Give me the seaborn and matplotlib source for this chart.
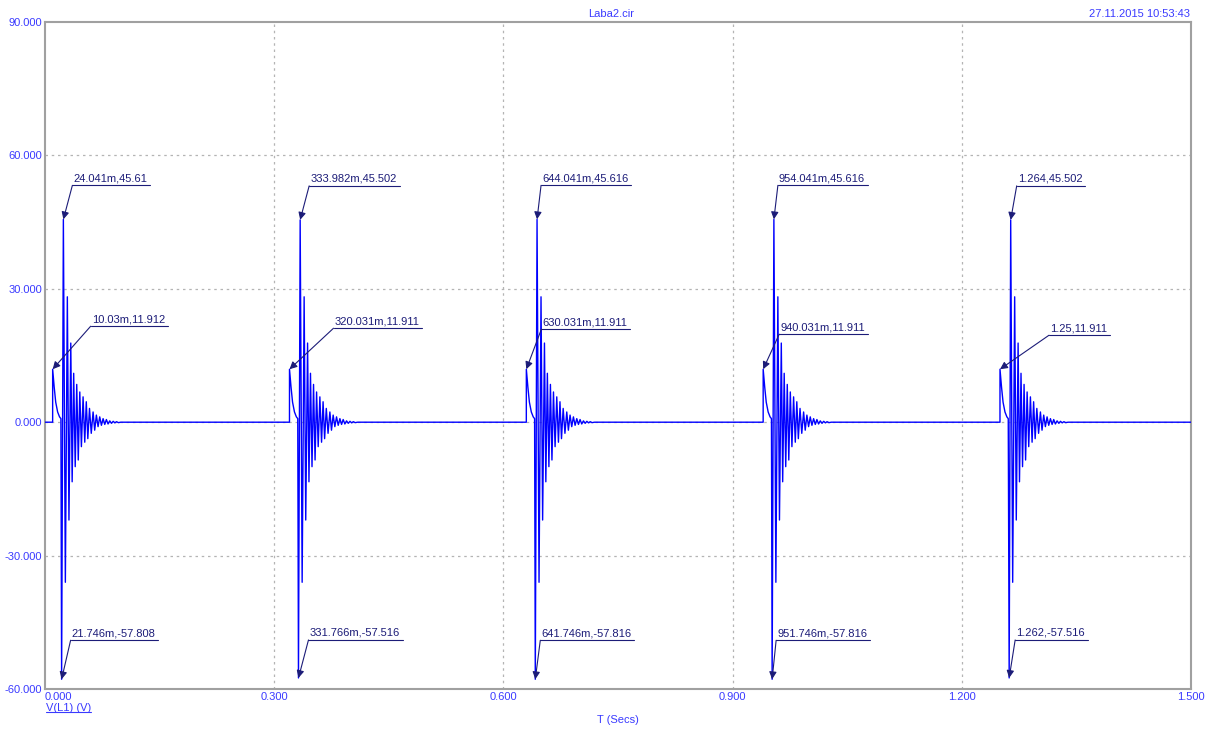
import numpy as np
import pandas as pd
import matplotlib
matplotlib.use("Agg")
import matplotlib.pyplot as plt
import seaborn as sns
from matplotlib.lines import Line2D

# ---------------- data ----------------
step_t = [0.01003, 0.320031, 0.630031, 0.940031, 1.25]
step_v = [11.912, 11.911, 11.911, 11.911, 11.911]
max_t = [0.024041, 0.333982, 0.644041, 0.954041, 1.264]
max_v = [45.61, 45.502, 45.616, 45.616, 45.502]
min_t = [0.021746, 0.331766, 0.641746, 0.951746, 1.262]
min_v = [-57.808, -57.516, -57.816, -57.816, -57.516]

step_lbl = ["10.03m,11.912", "320.031m,11.911", "630.031m,11.911", "940.031m,11.911", "1.25,11.911"]
max_lbl = ["24.041m,45.61", "333.982m,45.502", "644.041m,45.616", "954.041m,45.616", "1.264,45.502"]
min_lbl = ["21.746m,-57.808", "331.766m,-57.516", "641.746m,-57.816", "951.746m,-57.816", "1.262,-57.516"]

# decay after the step top (ms after step, volts)
decay_ms = [2.0, 4.0, 6.5, 9.0, 10.8]
decay_v = [7.9, 4.5, 2.3, 1.2, 0.8]
# ringing after the main positive peak (ms after peak, volts)
ring_ms = [2.6, 5.2, 7.3, 9.7, 11.5, 13.5, 15.5, 17.5, 19.5, 21.5, 23.6, 25.8,
           28.0, 30.0, 32.0, 34.2, 36.5, 38.9, 41.0, 43.2, 45.4, 47.6, 49.8,
           52.0, 54.2, 56.3, 58.5, 60.7, 63.0, 65.2, 67.4, 69.6, 72.0, 75.0]
ring_v = [-36.0, 28.2, -22.0, 17.8, -13.4, 11.0, -10.0, 8.5, -8.5, 6.8, -5.5, 5.7,
          -4.5, 4.6, -3.7, 3.1, -2.5, 2.3, -1.8, 1.6, -1.0, 1.2, -0.7, 0.8,
          -0.5, 0.6, -0.4, 0.3, -0.25, 0.2, -0.15, 0.12, -0.1, 0.0]

t_start, t_end = 0.0, 1.5
x_ticks = [0.0, 0.3, 0.6, 0.9, 1.2, 1.5]
y_ticks = [-60, -30, 0, 30, 60, 90]

# ---------------- build the trace ----------------
ts, vs = [t_start], [0.0]
for i in range(len(step_t)):
    ts += [step_t[i] - 0.00003, step_t[i]]
    vs += [0.0, step_v[i]]
    ts += [step_t[i] + d / 1000 for d in decay_ms]
    vs += decay_v
    ts += [min_t[i], max_t[i]]
    vs += [min_v[i], max_v[i]]
    ts += [max_t[i] + d / 1000 for d in ring_ms]
    vs += ring_v
ts.append(t_end)
vs.append(0.0)
df = pd.DataFrame({"t": ts, "v": vs})

# ---------------- figure ----------------
sns.set_style("white")
plt.rcParams["font.family"] = ["Liberation Sans", "DejaVu Sans"]
W, H = 1222, 733
fig = plt.figure(figsize=(W / 100, H / 100), dpi=100)
L, R, T, B = 45, 1191, 22, 689
ax = fig.add_axes([L / W, 1 - B / H, (R - L) / W, (B - T) / H])

blue = "#0000ff"
txtblue = "#3a3aff"
navy = "#1c1c78"
gray = "#a0a0a0"
gridgray = "#b4b4b4"

ax.set_xlim(t_start, t_end)
ax.set_ylim(-60, 90)
ax.set_xticks(x_ticks)
ax.set_yticks(y_ticks)
for v in x_ticks[1:-1]:
    ax.axvline(v, color=gridgray, lw=0.9, ls=(0, (2, 3)), zorder=0)
for v in y_ticks[1:-1]:
    ax.axhline(v, color=gridgray, lw=0.9, ls=(0, (2, 3)), zorder=0)

sns.lineplot(data=df, x="t", y="v", sort=False, estimator=None,
             color=blue, lw=1.0, ax=ax, zorder=3)

ax.set_xlabel("")
ax.set_ylabel("")
ax.set_xticklabels([f"{v:.3f}" for v in x_ticks])
ax.set_yticklabels([f"{v:.3f}" for v in y_ticks])
ax.tick_params(axis="both", length=0, labelsize=8, labelcolor=txtblue)
ax.tick_params(axis="x", pad=2)
ax.tick_params(axis="y", pad=2)
ax.get_xticklabels()[0].set_ha("left")
for s in ax.spines.values():
    s.set_color(gray)
    s.set_linewidth(1.5)

# texts around the plot
fig.text(611 / W, 1 - 14 / H, "Laba2.cir", ha="center", va="center", fontsize=8, color=txtblue)
fig.text(1190 / W, 1 - 14 / H, "27.11.2015 10:53:43", ha="right", va="center", fontsize=8, color=txtblue)
fig.text(618 / W, 1 - 720 / H, "T (Secs)", ha="center", va="center", fontsize=8, color=txtblue)
vl = fig.text((L + 1) / W, 1 - 708 / H, "V(L1) (V)", ha="left", va="center", fontsize=8, color=txtblue)

# annotation layout: offsets (pixels) from the point to the label's underline start
max_off = [(9, 34), (9, 34), (4, 34), (4, 34), (6, 34)]
step_off = [(38, 43), (44, 41), (15, 40), (16, 35), (49, 34)]
min_off = [(9, 39), (10, 38), (5, 39), (4, 39), (6, 38)]

fig.canvas.draw()
ren = fig.canvas.get_renderer()


def marker(x, y, label, off):
    px, py = ax.transData.transform((x, y))
    ux, uy = px + off[0], py + off[1]
    ax.annotate("", xy=(x, y), xycoords="data",
                xytext=(ux, uy), textcoords="figure pixels",
                arrowprops=dict(arrowstyle="-|>", color=navy, lw=0.8,
                                shrinkA=0, shrinkB=0, mutation_scale=11),
                zorder=5, annotation_clip=False)
    t = fig.text((ux + 1) / W, (uy + 2) / H, label, ha="left", va="bottom",
                 fontsize=8, color=navy)
    bb = t.get_window_extent(renderer=ren)
    fig.add_artist(Line2D([ux / W, (bb.x1 + 3) / W], [uy / H, uy / H],
                          color=navy, lw=0.8))


for i in range(len(step_t)):
    marker(max_t[i], max_v[i], max_lbl[i], max_off[i])
    marker(step_t[i], step_v[i], step_lbl[i], step_off[i])
    marker(min_t[i], min_v[i], min_lbl[i], min_off[i])

bb = vl.get_window_extent(renderer=ren)
fig.add_artist(Line2D([bb.x0 / W, bb.x1 / W], [(bb.y0 + 1) / H] * 2, color=txtblue, lw=0.8))

fig.savefig("out.png", dpi=100)
